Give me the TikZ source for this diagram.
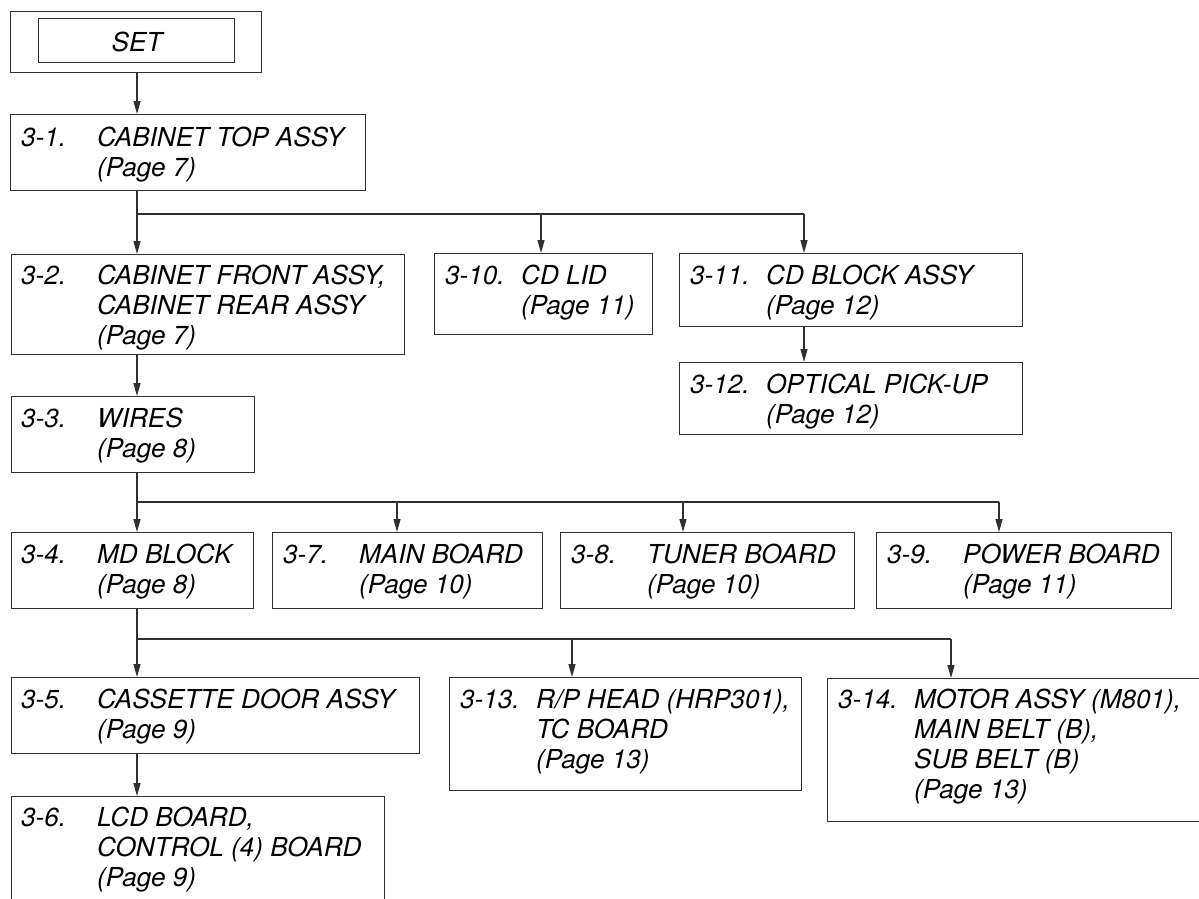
\documentclass[tikz,border=0pt]{standalone}
\usepackage{fontspec}
\setmainfont{TeX Gyre Heros}
\usetikzlibrary{arrows.meta}
\definecolor{ln}{HTML}{303030}
\tikzset{
  box/.style={draw=ln, line width=1.3pt, inner sep=0pt, anchor=north west},
  lbl/.style={anchor=base west, inner sep=0pt, text=black, font=\fontsize{26.1}{30}\selectfont\itshape},
  arr/.style={draw=ln, line width=1.3pt, -{Triangle[length=13pt,width=7pt]}},
  wire/.style={draw=ln, line width=1.3pt},
}
\newcommand{\tb}[1]{\begin{tabular}[t]{@{}p{76pt}@{}l@{}}#1\end{tabular}}
\begin{document}
\begin{tikzpicture}[x=1pt,y=-1pt]
\useasboundingbox (0,0) rectangle (1199,898);
\fill[white] (0,0) rectangle (1199,898);
\clip (0,0) rectangle (1199,898);
% boxes
\node[box, minimum width=251, minimum height=61] (set) at (10,11) {};
\node[box, minimum width=196, minimum height=44] (seti) at (38,18) {};
\node[box, minimum width=355, minimum height=76] (b31) at (10,114) {};
\node[box, minimum width=393, minimum height=100] (b32) at (11,254) {};
\node[box, minimum width=243, minimum height=76] (b33) at (11,396) {};
\node[box, minimum width=242, minimum height=76] (b34) at (11,532) {};
\node[box, minimum width=408, minimum height=76] (b35) at (11,677) {};
\node[box, minimum width=373, minimum height=150] (b36) at (11,796) {};
\node[box, minimum width=218, minimum height=81] (b310) at (434,253) {};
\node[box, minimum width=343, minimum height=73] (b311) at (679,253) {};
\node[box, minimum width=343, minimum height=72] (b312) at (679,362) {};
\node[box, minimum width=270, minimum height=76] (b37) at (272,532) {};
\node[box, minimum width=294, minimum height=76] (b38) at (560,532) {};
\node[box, minimum width=295, minimum height=76] (b39) at (876,532) {};
\node[box, minimum width=352, minimum height=113] (b313) at (449,677) {};
\node[box, minimum width=400, minimum height=143] (b314) at (827,678) {};
% texts
\node[lbl, anchor=base] (tset) at (137,51) {SET};
\node[lbl] (t31) at (21,146) {\tb{3-1.&CABINET TOP ASSY\\&(Page 7)}};
\node[lbl] (t32) at (21,284) {\tb{3-2.&CABINET FRONT ASSY,\\&CABINET REAR ASSY\\&(Page 7)}};
\node[lbl] (t33) at (21,427) {\tb{3-3.&WIRES\\&(Page 8)}};
\node[lbl] (t34) at (21,563) {\tb{3-4.&MD BLOCK\\&(Page 8)}};
\node[lbl] (t35) at (21,708) {\tb{3-5.&CASSETTE DOOR ASSY\\&(Page 9)}};
\node[lbl] (t36) at (21,826) {\tb{3-6.&LCD BOARD,\\&CONTROL (4) BOARD\\&(Page 9)}};
\node[lbl] (t310) at (445,284) {\tb{3-10.&CD LID\\&(Page 11)}};
\node[lbl] (t311) at (690,284) {\tb{3-11.&CD BLOCK ASSY\\&(Page 12)}};
\node[lbl] (t312) at (690,393) {\tb{3-12.&OPTICAL PICK-UP\\&(Page 12)}};
\node[lbl] (t37) at (283,563) {\tb{3-7.&MAIN BOARD\\&(Page 10)}};
\node[lbl] (t38) at (571,563) {\tb{3-8.&TUNER BOARD\\&(Page 10)}};
\node[lbl] (t39) at (887,563) {\tb{3-9.&POWER BOARD\\&(Page 11)}};
\node[lbl] (t313) at (460,708) {\tb{3-13.&R/P HEAD (HRP301),\\&TC BOARD\\&(Page 13)}};
\node[lbl] (t314) at (838,708) {\tb{3-14.&MOTOR ASSY (M801),\\&MAIN BELT (B),\\&SUB BELT (B)\\&(Page 13)}};
% junction coordinates
\coordinate (xl) at (137,0);
\coordinate (j1) at (137,214);
\coordinate (j1a) at (541,214);
\coordinate (j1b) at (804,214);
\coordinate (j2) at (137,502);
\coordinate (j2a) at (397,502);
\coordinate (j2b) at (683,502);
\coordinate (j2c) at (999,502);
\coordinate (j3) at (137,639);
\coordinate (j3a) at (572,639);
\coordinate (j3b) at (951,639);
% connectors
\draw[arr] (set.south -| xl) -- (b31.north -| xl);
\draw[arr] (b31.south -| xl) -- (b32.north -| xl);
\draw[wire] (j1) -- (j1b);
\draw[arr] (j1a) -- (b310.north -| j1a);
\draw[arr] (j1b) -- (b311.north -| j1b);
\draw[arr] (b311.south -| j1b) -- (b312.north -| j1b);
\draw[arr] (b32.south -| xl) -- (b33.north -| xl);
\draw[arr] (b33.south -| xl) -- (b34.north -| xl);
\draw[wire] (j2) -- (j2c);
\draw[arr] (j2a) -- (b37.north -| j2a);
\draw[arr] (j2b) -- (b38.north -| j2b);
\draw[arr] (j2c) -- (b39.north -| j2c);
\draw[arr] (b34.south -| xl) -- (b35.north -| xl);
\draw[wire] (j3) -- (j3b);
\draw[arr] (j3a) -- (b313.north -| j3a);
\draw[arr] (j3b) -- (b314.north -| j3b);
\draw[arr] (b35.south -| xl) -- (b36.north -| xl);
\end{tikzpicture}
\end{document}
